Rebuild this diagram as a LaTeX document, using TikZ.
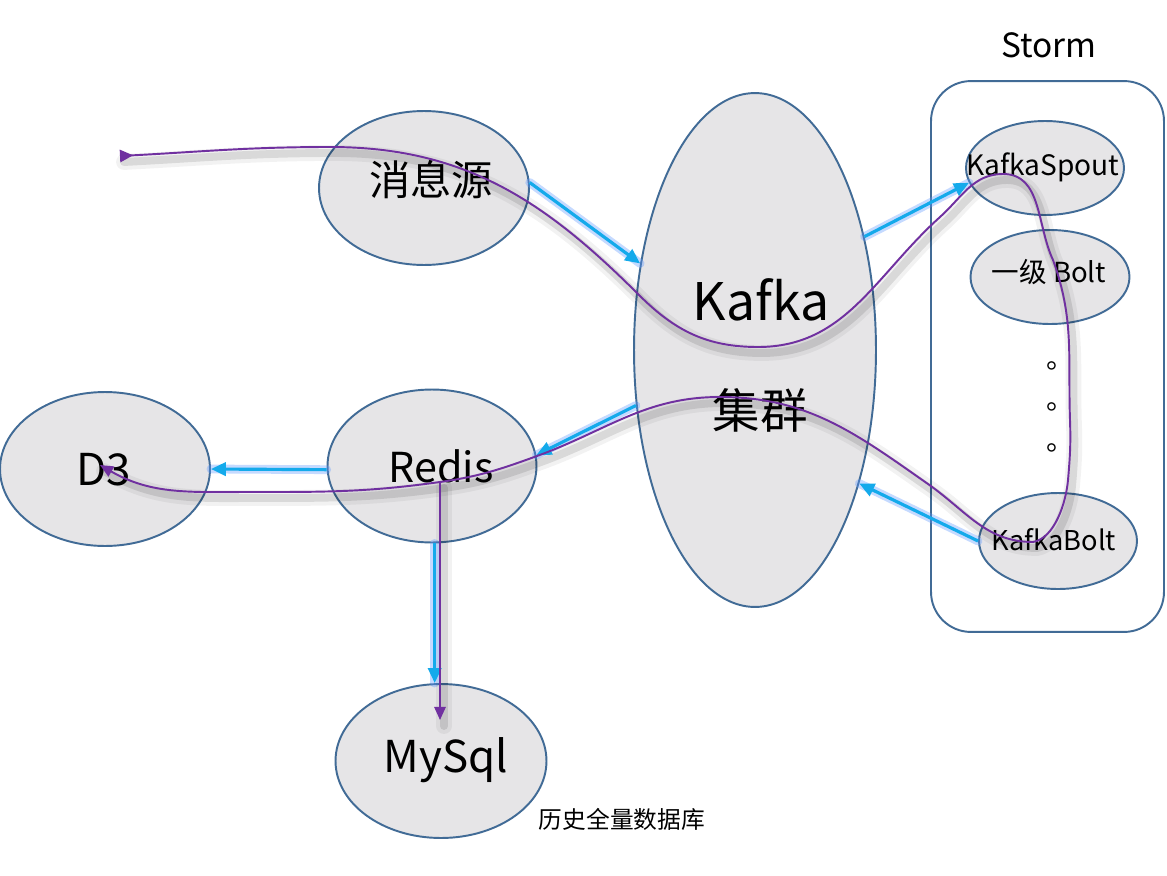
\documentclass[tikz,border=0pt]{standalone}
\usepackage{fontspec}
\setmainfont{Noto Sans CJK SC}
\usetikzlibrary{arrows.meta,shapes.geometric}
\definecolor{ellfill}{RGB}{230,229,231}
\definecolor{elledge}{RGB}{65,107,150}
\definecolor{flowblue}{RGB}{20,170,235}
\definecolor{glowblue}{RGB}{90,150,255}
\definecolor{flowpurple}{RGB}{112,48,160}
\newcommand\flowpath{(fstart) to[out=3,in=180] (330,-147) to[out=0,in=135] (639,-295) to[out=-45,in=180] (758,-347) to[out=0,in=-138] (940,-217) to[out=42,in=180] (1003,-174) to[out=0,in=115] (1053,-260) to[out=-70,in=92] (1070,-420) to[out=-88,in=85] (1068,-480) to[out=-95,in=10,looseness=0.8] (1033,-542) to[out=180,in=-35] (928,-484) to[out=145,in=0] (720,-397) to[out=180,in=20] (537,-456) to[out=200,in=8] (branch) to[out=188,in=0] (250,-492) to[out=180,in=-30] (fend)}
\newcommand\branchpath{(branch) -- (branch |- mysqlarr)}
\begin{document}
\begin{tikzpicture}[x=0.02cm,y=0.02cm,
  ell/.style={ellipse, draw=elledge, fill=ellfill, line width=1.1pt, inner sep=0pt},
  lbl/.style={inner sep=0pt, text=black},
  bluearrow/.style={draw=flowblue, line width=1.8pt, -{Triangle[length=8.5pt,width=7.5pt]}},
  blueglow/.style={draw=glowblue, line width=5pt, opacity=0.35, line cap=round},
  purpleline/.style={draw=flowpurple, line width=1.1pt},
  shadowline/.style={draw=black, line width=4.5pt, opacity=0.10, line cap=round},
  shadowwide/.style={draw=black, line width=9pt, opacity=0.05, line cap=round}]
\useasboundingbox (0,0) rectangle (1167,-876);
\fill[white] (0,0) rectangle (1167,-876);

% Storm container
\node[draw=elledge, line width=1.1pt, rounded corners=0.8cm, minimum width=4.66cm, minimum height=11.02cm, inner sep=0pt] (storm) at (1047.5,-356.5) {};
\node[lbl, font=\fontsize{19pt}{22pt}\selectfont] (stormlbl) at (1049,-45) {Storm};

% ellipses
\node[ell, minimum width=4.2cm, minimum height=3.08cm] (src) at (424,-188) {};
\node[ell, minimum width=4.84cm, minimum height=10.28cm] (kafka) at (755,-350) {};
\node[ell, minimum width=3.16cm, minimum height=1.88cm] (spout) at (1045,-168) {};
\node[ell, minimum width=3.18cm, minimum height=1.88cm] (bolt1) at (1050,-277) {};
\node[ell, minimum width=3.16cm, minimum height=1.92cm] (kbolt) at (1058,-541) {};
\node[ell, minimum width=4.2cm, minimum height=3.08cm] (d3) at (105,-469) {};
\node[ell, minimum width=4.18cm, minimum height=3.06cm] (redis) at (432,-466) {};
\node[ell, minimum width=4.22cm, minimum height=3.08cm] (mysql) at (441,-761) {};

% labels
\node[lbl, font=\fontsize{23.5pt}{26pt}\selectfont] (srclbl) at (431,-180) {消息源};
\node[lbl, font=\fontsize{29.5pt}{34pt}\selectfont] (kafkalbl) at (761,-300) {Kafka};
\node[lbl, font=\fontsize{27pt}{30pt}\selectfont] (clusterlbl) at (760,-410) {集群};
\node[lbl, font=\fontsize{16pt}{19pt}\selectfont] (spoutlbl) at (1043,-167) {KafkaSpout};
\node[lbl, font=\fontsize{15.7pt}{19pt}\selectfont] (bolt1lbl) at (1049,-272) {一级 Bolt};
\node[lbl, font=\fontsize{15.5pt}{19pt}\selectfont] (kboltlbl) at (1054,-540) {KafkaBolt};
\node[lbl, font=\fontsize{25pt}{28pt}\selectfont] (d3lbl) at (104,-470) {D3};
\node[lbl, font=\fontsize{23.5pt}{27pt}\selectfont] (redislbl) at (441,-466) {Redis};
\node[lbl, font=\fontsize{25pt}{29pt}\selectfont] (mysqllbl) at (446,-760) {MySql};
\node[lbl, font=\fontsize{13.5pt}{16pt}\selectfont] (histlbl) at (622,-819) {历史全量数据库};
\node[lbl, anchor=base west, font=\fontsize{16pt}{19pt}\selectfont] (dot1) at (1046,-368) {。};
\node[lbl, anchor=base west, font=\fontsize{16pt}{19pt}\selectfont] (dot2) at (1046,-409) {。};
\node[lbl, anchor=base west, font=\fontsize{16pt}{19pt}\selectfont] (dot3) at (1046,-450) {。};

% flow coordinates
\coordinate (fstart) at (120,-156);
\coordinate (fend) at (100,-465);
\coordinate (branch) at (440,-482);
\coordinate (mysqlarr) at (440,-720);

% blue glows
\draw[blueglow] (src.3) -- (kafka.143);
\draw[blueglow] (kafka.46) -- (spout.191);
\draw[blueglow] (kbolt.180) -- (kafka.-52);
\draw[blueglow] (kafka.205) -- (redis.6);
\draw[blueglow] (redis.182) -- (d3.0);
\draw[blueglow] (redis.-88) -- (redis.-88 |- mysql.north);

% purple shadow
\begin{scope}[transform canvas={shift={(0.08cm,-0.12cm)}}]
\draw[shadowwide] \flowpath;
\draw[shadowline] \flowpath;
\draw[shadowwide] \branchpath;
\draw[shadowline] \branchpath;
\end{scope}

% blue arrows
\draw[bluearrow] (src.3) -- (kafka.143);
\draw[bluearrow] (kafka.46) -- (spout.191);
\draw[bluearrow] (kbolt.180) -- (kafka.-52);
\draw[bluearrow] (kafka.205) -- (redis.6);
\draw[bluearrow] (redis.182) -- (d3.0);
\draw[bluearrow] (redis.-88) -- (redis.-88 |- mysql.north);

% purple flow
\draw[purpleline, {Triangle[reversed,length=7.5pt,width=7pt]}-{Triangle[length=7.5pt,width=6.5pt]}] \flowpath;
\draw[purpleline, -{Triangle[length=7.5pt,width=6.5pt]}] \branchpath;
\end{tikzpicture}
\end{document}
